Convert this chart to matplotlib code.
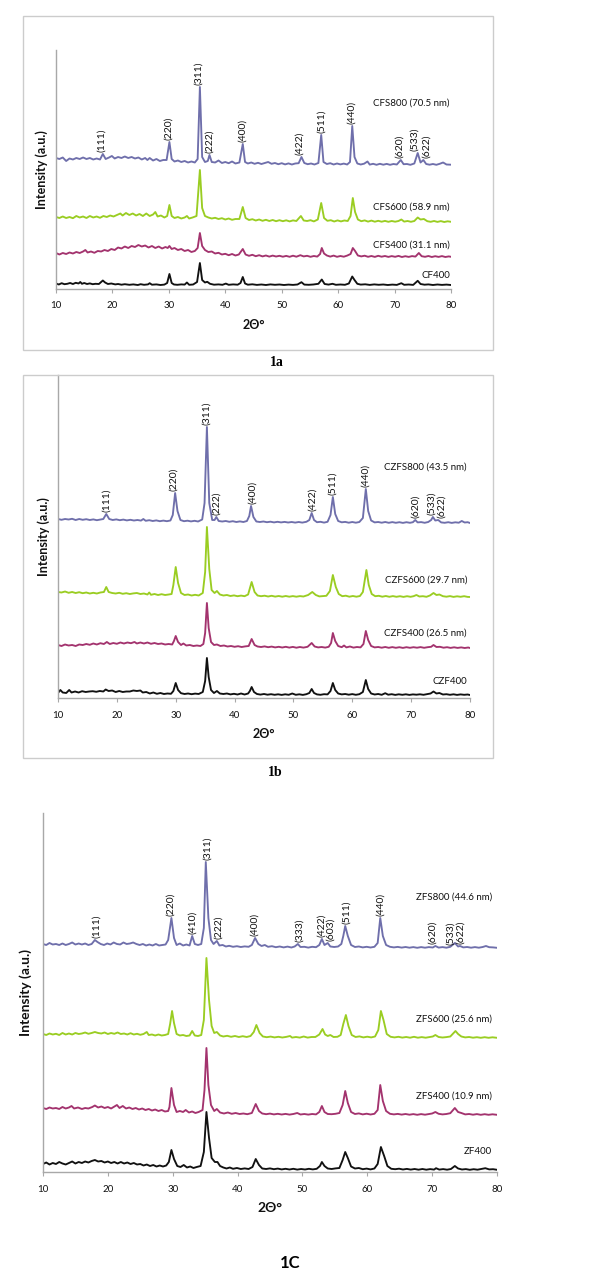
import matplotlib.pyplot as plt
import numpy as np
from matplotlib.patches import Rectangle

plt.rcParams['font.family'] = ['Lato', 'DejaVu Sans']

# ==============================
# DATA (2theta, intensity above each trace's own baseline, a.u.)
# ==============================
cf400 = np.array([
    [10, 1.5], [10.5, 0.5], [11, 1.8], [11.5, 0.8], [12, 1.2], [12.5, 2.0], [13, 1.0], [13.5, 2.2],
    [14, 1.5], [14.3, 3.0], [14.6, 1.2], [15, 2.0], [15.5, 1.0], [16, 1.6], [16.5, 0.8], [17, 1.2],
    [17.6, 1.0], [18.0, 3.0], [18.3, 4.5], [18.7, 2.5], [19.2, 1.0], [19.8, 1.5], [20.5, 0.6], [21, 1.0],
    [21.6, 0.3], [22.2, 0.8], [23, 0.2], [23.7, 0.6], [24.5, 0.0], [25, 0.8], [25.6, 0.2], [26.3, 0.6],
    [26.6, 1.8], [27, 0.3], [27.8, 0.6], [28.5, 0.0], [29.2, 0.4], [29.7, 2], [30.1, 11], [30.5, 2],
    [30.9, 0.5], [31.5, 0.2], [32.2, 0.6], [32.8, 0.4], [33.2, 2.5], [33.6, 0.2], [34.3, 0.5], [35.0, 3],
    [35.5, 22], [35.9, 5], [36.4, 2.5], [36.8, 3.2], [37.3, 1.2], [38, 0.3], [38.8, 0.6], [39.5, 0.2],
    [40.1, 1.4], [40.6, 0.2], [41.4, 0.6], [42.2, 0.3], [42.7, 2], [43.1, 8], [43.5, 1.5], [44, 0.3],
    [44.8, 0.7], [45.6, 0.1], [46.4, 0.5], [47.2, 0.0], [48, 0.6], [48.8, 0.2], [49.6, 0.5], [50.4, 0.0],
    [51.2, 0.4], [52, 0.1], [52.8, 0.5], [53.5, 2.8], [54, 0.4], [54.8, 0.2], [55.6, 0.5], [56.5, 1.2],
    [57.1, 5.5], [57.6, 1.0], [58.3, 0.4], [59, 1.2], [59.6, 0.2], [60.4, 0.5], [61.2, 0.2], [61.9, 1.5],
    [62.5, 8.5], [62.9, 5], [63.4, 1.2], [64, 0.4], [64.8, 0.7], [65.6, 0.1], [66.4, 0.6], [67.2, 0.2],
    [68, 0.5], [68.8, 0.0], [69.6, 0.4], [70.4, 0.1], [71.2, 1.8], [71.7, 0.2], [72.5, 0.5], [73.3, 0.1],
    [74.1, 4.2], [74.6, 1.0], [75.3, 0.3], [76, 0.6], [76.8, 0.0], [77.6, 0.5], [78.4, 0.1], [79.2, 0.4],
    [80, 0.0]])

cfs400 = np.array([
    [10, 4], [10.6, 2.5], [11.2, 4], [11.8, 3], [12.4, 4.5], [13, 3.5], [13.6, 5], [14.2, 4],
    [14.8, 5.5], [15.2, 7], [15.6, 4.5], [16.2, 5.5], [16.8, 4.2], [17.4, 6], [18, 5.5], [18.6, 7],
    [19.2, 6], [19.8, 8], [20.4, 7], [21, 9.5], [21.6, 8.5], [22.2, 10.5], [22.8, 9], [23.4, 11],
    [24, 10], [24.6, 12], [25.2, 10.5], [25.8, 11.5], [26.4, 9.5], [27, 11], [27.6, 9], [28.2, 10.5],
    [28.8, 8.5], [29.4, 10], [29.8, 9], [30.1, 11], [30.5, 8], [31, 9], [31.6, 7], [32.2, 8],
    [32.8, 6], [33.4, 7], [34, 5], [34.6, 6], [35.1, 9], [35.5, 24], [35.9, 11], [36.4, 7],
    [37, 5], [37.6, 5.5], [38.2, 3.5], [38.8, 4.2], [39.4, 2.5], [40, 3.2], [40.6, 1.8], [41.2, 3],
    [41.8, 1.5], [42.4, 2.5], [43.1, 8], [43.6, 2.5], [44.2, 1.2], [44.8, 2.2], [45.4, 0.8], [46, 1.8],
    [46.6, 0.6], [47.2, 1.5], [47.8, 0.4], [48.4, 1.4], [49, 0.5], [49.6, 1.2], [50.2, 0.3], [50.8, 1.1],
    [51.4, 0.2], [52, 1.3], [52.6, 0.3], [53.3, 1.8], [53.9, 0.6], [54.5, 1.2], [55.1, 0.2], [55.7, 1.0],
    [56.3, 0.4], [56.8, 3], [57.1, 9], [57.5, 3.5], [58, 1.5], [58.6, 0.4], [59.2, 1.4], [59.8, 0.2],
    [60.4, 1.0], [61, 0.3], [61.6, 1.4], [62.2, 3], [62.6, 9], [63, 6], [63.5, 1.5], [64.1, 0.6],
    [64.7, 1.3], [65.3, 0.2], [65.9, 1.0], [66.5, 0.1], [67.1, 1.2], [67.7, 0.3], [68.3, 1.0], [68.9, 0.1],
    [69.5, 0.9], [70.1, 0.2], [70.7, 1.1], [71.3, 0.0], [71.9, 0.8], [72.5, 0.1], [73.1, 0.9], [73.7, 0.4],
    [74.3, 4], [74.8, 0.8], [75.4, 0.2], [76, 1.0], [76.6, 0.0], [77.2, 0.8], [77.8, 0.1], [78.4, 0.9],
    [79, 0.0], [79.6, 0.6], [80, 0.2]])

cfs600 = np.array([
    [10, 5], [10.6, 4], [11.2, 5.5], [11.8, 4], [12.4, 5], [13, 3.8], [13.6, 6], [14.2, 4.5],
    [14.8, 5.5], [15.4, 4], [16, 6], [16.6, 4.5], [17.2, 5.5], [17.8, 4.2], [18.4, 6], [19, 5],
    [19.6, 6.5], [20.2, 5.5], [20.8, 7], [21.4, 8.5], [21.8, 6.5], [22.4, 9], [23, 7], [23.6, 8.5],
    [24.2, 6.5], [24.8, 8], [25.4, 6], [26, 8.5], [26.6, 6], [27.2, 7.5], [27.6, 10], [28, 5.5],
    [28.6, 6.5], [29.2, 4.5], [29.7, 6], [30.1, 17], [30.5, 6], [31, 4], [31.6, 5], [32.2, 3.5],
    [32.8, 4.5], [33.2, 6], [33.6, 3.5], [34.2, 4.5], [34.9, 6], [35.5, 52], [35.9, 14], [36.4, 6],
    [37, 4.5], [37.6, 3.5], [38.2, 4.2], [38.8, 3], [39.4, 3.8], [40, 2.5], [40.6, 3.5], [41.2, 2.2],
    [41.8, 3], [42.5, 3], [43.1, 15], [43.6, 4], [44.2, 2], [44.8, 2.8], [45.4, 1.5], [46, 2.5],
    [46.6, 1.2], [47.2, 2.2], [47.8, 1.0], [48.4, 2.0], [49, 0.8], [49.6, 1.8], [50.2, 0.8], [50.8, 1.7],
    [51.4, 0.6], [52, 1.6], [52.6, 1.0], [53.4, 6], [53.9, 1.5], [54.5, 1.0], [55.1, 1.8], [55.7, 0.6],
    [56.4, 2.5], [57.0, 19], [57.5, 4], [58.1, 1.2], [58.7, 1.8], [59.3, 0.5], [59.9, 1.6], [60.5, 0.6],
    [61.1, 1.5], [61.7, 1.0], [62.2, 6], [62.6, 24], [63, 10], [63.5, 2.5], [64.1, 0.8], [64.7, 1.6],
    [65.3, 0.4], [65.9, 1.4], [66.5, 0.3], [67.1, 1.2], [67.7, 0.3], [68.3, 1.1], [68.9, 0.2], [69.5, 1.0],
    [70.1, 0.3], [70.7, 1.0], [71.2, 2.5], [71.7, 0.4], [72.3, 1.0], [72.9, 0.2], [73.5, 1.0], [74.1, 4.5],
    [74.6, 2.5], [75.2, 3], [75.8, 0.8], [76.4, 0.2], [77, 1.0], [77.6, 0.1], [78.2, 0.9], [78.8, 0.0],
    [79.4, 0.7], [80, 0.2]])

cfs800 = np.array([
    [10, 7], [10.6, 6], [11.2, 7.5], [11.8, 4], [12.4, 6.5], [13, 5.5], [13.6, 7], [14.2, 6],
    [14.8, 7.5], [15.4, 6], [16, 7], [16.6, 5.5], [17.2, 6.5], [17.8, 5.5], [18.3, 11], [18.8, 6],
    [19.4, 7.5], [19.9, 9], [20.4, 6.5], [21, 8], [21.6, 7], [22.2, 8.5], [22.8, 7], [23.4, 8],
    [24, 6.5], [24.6, 7.5], [25.2, 5.5], [25.8, 7], [26.2, 5], [26.6, 7], [27.2, 4.5], [27.8, 6],
    [28.4, 4], [29, 5], [29.6, 5], [30.1, 23], [30.5, 6], [31, 3.5], [31.6, 4.5], [32.2, 3],
    [32.8, 4], [33.4, 2.5], [34, 3.5], [34.6, 2.5], [35.1, 6], [35.5, 78], [35.9, 8], [36.4, 3],
    [36.9, 4], [37.2, 10], [37.6, 3], [38.2, 2.5], [38.8, 4.5], [39.4, 2], [40, 3], [40.6, 1.8],
    [41.2, 3.5], [41.8, 1.5], [42.5, 2.5], [43.1, 21], [43.5, 3], [44, 1.5], [44.6, 2.5], [45.2, 1.2],
    [45.8, 2.2], [46.4, 1.0], [47, 2.0], [47.6, 3], [48.2, 1.2], [48.8, 2.0], [49.4, 0.8], [50, 1.8],
    [50.6, 0.6], [51.2, 1.6], [51.8, 0.5], [52.4, 1.5], [53, 1.8], [53.5, 8], [54, 2], [54.6, 0.8],
    [55.2, 1.5], [55.8, 0.5], [56.5, 2], [57.0, 30], [57.4, 3], [58, 1], [58.6, 1.8], [59.2, 0.5],
    [59.8, 1.5], [60.4, 0.6], [61, 1.4], [61.6, 0.5], [62.1, 3], [62.5, 39], [62.9, 8], [63.4, 1.5],
    [64, 0.5], [64.6, 1.3], [65.2, 3.5], [65.6, 0.4], [66.2, 1.2], [66.8, 0.2], [67.4, 1.2], [68, 0.3],
    [68.6, 1.1], [69.2, 0.2], [69.8, 1.0], [70.4, 0.5], [71.1, 5], [71.6, 0.8], [72.2, 1.0], [72.8, 0.2],
    [73.5, 1.5], [74.1, 12], [74.6, 2.5], [75.1, 5], [75.6, 1], [76.2, 0.3], [76.8, 1.0], [77.4, 0.2],
    [78, 1.2], [78.6, 2.5], [79.2, 0.5], [80, 0.3]])

czf400 = np.array([
    [10, 2], [10.4, 5], [10.8, 2.5], [11.4, 2], [11.9, 5], [12.3, 2.5], [12.9, 3.5], [13.5, 2.5],
    [14.1, 3.8], [14.7, 3], [15.3, 3.5], [15.9, 3.8], [16.5, 3.2], [17.1, 4], [17.7, 3.5], [18.1, 5.5],
    [18.6, 4], [19.2, 4.5], [19.8, 3], [20.4, 4], [21, 3], [21.6, 3.5], [22.2, 3.5], [22.8, 4.5],
    [23.4, 4], [24, 4.5], [24.4, 2.5], [25, 3], [25.6, 1.5], [26.2, 2.5], [26.8, 1.2], [27.4, 2],
    [28, 1], [28.6, 1.5], [29.2, 1.2], [29.6, 4], [30.0, 12], [30.4, 5], [30.9, 1.8], [31.5, 1.0],
    [32.1, 1.5], [32.7, 0.8], [33.3, 1.4], [33.9, 1.0], [34.6, 3], [35.0, 14], [35.3, 37], [35.6, 18],
    [36.0, 5], [36.5, 2], [37.0, 4], [37.5, 1.5], [38.1, 1.0], [38.7, 1.5], [39.3, 0.6], [39.9, 1.2],
    [40.5, 0.5], [41.1, 1.5], [41.7, 0.5], [42.3, 1.5], [42.6, 4], [42.9, 8], [43.3, 3], [43.8, 1.0],
    [44.4, 0.4], [45, 1.0], [45.6, 0.3], [46.2, 0.8], [46.8, 0.2], [47.4, 0.7], [48, 0.1], [48.6, 0.7],
    [49.2, 0.2], [49.8, 1.5], [50.4, 0.2], [51, 0.7], [51.6, 0.1], [52.2, 0.8], [52.7, 2], [53.1, 6],
    [53.5, 2], [54, 0.6], [54.6, 0.2], [55.2, 0.8], [55.8, 0.6], [56.3, 4], [56.7, 12], [57.1, 5],
    [57.6, 1.5], [58.2, 0.6], [58.8, 1.0], [59.4, 0.3], [60, 0.9], [60.6, 0.2], [61.2, 0.8], [61.8, 3],
    [62.3, 15], [62.7, 6], [63.2, 1.5], [63.8, 0.5], [64.4, 1.0], [65, 0.2], [65.6, 1.8], [66.1, 0.3],
    [66.7, 0.8], [67.3, 0.1], [67.9, 0.7], [68.5, 0.2], [69.1, 0.7], [69.7, 0.1], [70.3, 0.6], [70.9, 0.3],
    [71.5, 0.7], [72.1, 0.2], [72.7, 0.8], [73.3, 1.5], [73.8, 3.5], [74.3, 1.5], [74.8, 2], [75.4, 0.5],
    [76, 0.8], [76.6, 0.2], [77.2, 0.7], [77.8, 0.1], [78.4, 0.6], [79, 0.2], [79.6, 0.5], [80, 0]])

czfs400 = np.array([
    [10, 3], [10.6, 2], [11.2, 3.5], [11.8, 2.5], [12.4, 3], [13, 2], [13.6, 3.5], [14.2, 3],
    [14.8, 4], [15.4, 3.2], [16, 4.5], [16.6, 3.5], [17.2, 4.8], [17.8, 4], [18.3, 6], [18.8, 4],
    [19.4, 5], [20, 4.2], [20.6, 5.5], [21.2, 4.5], [21.8, 5.5], [22.4, 4.8], [23, 6], [23.4, 4.5],
    [24, 5.5], [24.6, 4.5], [25.2, 5.5], [25.8, 4.2], [26.4, 5], [27, 4], [27.6, 4.5], [28.2, 3.5],
    [28.8, 4], [29.4, 3.5], [29.7, 7], [30.0, 12], [30.4, 6], [30.9, 3], [31.3, 4.5], [31.8, 2.5],
    [32.4, 3], [33, 2], [33.6, 2.5], [34.2, 2], [34.7, 4], [35.0, 15], [35.3, 45], [35.6, 20],
    [36.0, 6], [36.5, 3], [37, 3.5], [37.6, 2], [38.2, 2.5], [38.8, 1.5], [39.4, 2.0], [40, 1.2],
    [40.6, 1.8], [41.2, 1.0], [41.8, 1.6], [42.4, 2], [42.9, 9], [43.4, 3], [43.9, 1.5], [44.5, 1.0],
    [45.1, 1.6], [45.7, 0.8], [46.3, 1.4], [46.9, 0.6], [47.5, 1.2], [48.1, 0.5], [48.7, 1.2], [49.3, 0.4],
    [49.9, 1.1], [50.5, 0.3], [51.1, 1.0], [51.7, 0.4], [52.4, 1.2], [53.1, 5], [53.6, 1.5], [54.2, 0.6],
    [54.8, 1.0], [55.4, 0.4], [56.0, 1.2], [56.4, 5], [56.7, 15], [57.1, 7], [57.6, 2], [58.2, 0.8],
    [58.6, 2.5], [59, 0.6], [59.6, 1.5], [60.2, 0.4], [60.8, 1.0], [61.4, 0.6], [61.9, 4], [62.3, 17],
    [62.7, 8], [63.2, 2], [63.8, 0.6], [64.4, 1.0], [65, 0.3], [65.6, 1.0], [66.2, 0.2], [66.8, 0.9],
    [67.4, 0.2], [68, 0.8], [68.6, 0.1], [69.2, 0.8], [69.8, 0.2], [70.4, 0.8], [71, 0.3], [71.6, 0.9],
    [72.2, 0.2], [72.8, 0.8], [73.4, 1.2], [73.8, 3], [74.3, 1.0], [74.9, 1.2], [75.5, 0.3], [76.1, 0.8],
    [76.7, 0.1], [77.3, 0.7], [77.9, 0.1], [78.5, 0.6], [79.1, 0.0], [79.7, 0.5], [80, 0]])

czfs600 = np.array([
    [10, 5], [10.6, 4.5], [11.2, 5.5], [11.8, 4.2], [12.4, 5], [13, 4], [13.6, 4.8], [14.2, 3.8],
    [14.8, 4.5], [15.4, 3.5], [16, 4.2], [16.6, 3.5], [17.2, 4.5], [17.8, 5], [18.2, 10], [18.6, 5],
    [19.2, 4], [19.8, 3.5], [20.4, 4.2], [21, 3.2], [21.6, 3.8], [22.2, 3], [22.8, 3.6], [23.4, 4],
    [24, 3], [24.6, 3.5], [25.2, 2.5], [25.5, 4.5], [25.8, 2.2], [26.4, 3], [27, 2], [27.6, 2.8],
    [28.2, 2], [28.8, 2.5], [29.3, 3], [29.6, 12], [30.0, 30], [30.4, 14], [30.9, 4], [31.5, 2],
    [32.1, 2.5], [32.7, 1.5], [33.3, 2.2], [33.9, 1.5], [34.6, 4], [35.0, 25], [35.3, 70], [35.7, 28],
    [36.1, 7], [36.6, 4], [37.0, 6], [37.5, 2.5], [38.1, 1.5], [38.7, 2], [39.3, 1.0], [39.9, 1.6],
    [40.5, 0.8], [41.1, 1.4], [41.7, 0.8], [42.3, 2.5], [42.9, 15], [43.4, 5], [43.9, 1.5], [44.5, 0.8],
    [45.1, 1.3], [45.7, 0.5], [46.3, 1.2], [46.9, 0.4], [47.5, 1.0], [48.1, 0.3], [48.7, 1.0], [49.3, 0.3],
    [49.9, 0.9], [50.5, 0.3], [51.1, 0.9], [51.7, 0.5], [52.5, 2], [53.2, 5], [53.8, 2], [54.4, 0.6],
    [55, 0.9], [55.6, 1.2], [56.2, 6], [56.7, 22], [57.2, 10], [57.7, 3], [58.3, 0.8], [58.9, 1.3],
    [59.5, 0.3], [60.1, 1.0], [60.7, 0.3], [61.3, 1.0], [61.8, 5], [62.4, 27], [62.8, 12], [63.3, 3],
    [63.9, 0.8], [64.5, 1.2], [65.1, 0.3], [65.7, 1.0], [66.3, 0.2], [66.9, 0.9], [67.5, 0.2], [68.1, 0.8],
    [68.7, 0.1], [69.3, 0.8], [69.9, 0.2], [70.4, 0.8], [70.9, 2], [71.4, 0.5], [72, 0.8], [72.6, 0.2],
    [73.2, 1.5], [73.8, 4], [74.3, 2], [74.8, 2.5], [75.4, 0.8], [76, 0.3], [76.6, 0.9], [77.2, 0.1],
    [77.8, 0.7], [78.4, 0.2], [79, 0.8], [79.6, 0.1], [80, 0]])

czfs800 = np.array([
    [10, 4], [10.6, 3.2], [11.2, 4], [11.8, 3.5], [12.4, 4.2], [13, 3], [13.6, 4], [14.2, 3.2],
    [14.8, 3.8], [15.4, 3], [16, 3.6], [16.6, 2.8], [17.2, 3.4], [17.7, 4], [18.2, 9], [18.7, 4],
    [19.3, 3], [19.9, 3.6], [20.5, 2.8], [21.1, 3.4], [21.7, 2.6], [22.3, 3.2], [22.9, 2.5], [23.5, 3.0],
    [24.1, 2.4], [24.5, 4], [24.9, 2.2], [25.5, 2.8], [26.1, 2.0], [26.7, 2.6], [27.3, 1.8], [27.9, 2.4],
    [28.5, 1.8], [29.1, 2.5], [29.5, 8], [29.9, 30], [30.3, 12], [30.8, 3], [31.4, 1.8], [32, 2.3],
    [32.6, 1.6], [33.2, 2.2], [33.8, 1.5], [34.5, 3.5], [34.9, 20], [35.3, 96], [35.7, 20], [36.2, 3],
    [36.6, 3], [36.9, 6], [37.3, 2], [37.9, 1.5], [38.5, 2], [39.1, 1.2], [39.7, 1.8], [40.3, 1.0],
    [40.9, 1.6], [41.5, 1.0], [42.1, 2], [42.5, 7], [42.8, 17], [43.2, 6], [43.7, 1.5], [44.3, 1.0],
    [44.9, 1.5], [45.5, 0.8], [46.1, 1.3], [46.7, 0.6], [47.3, 1.2], [47.9, 0.6], [48.5, 1.1], [49.1, 0.5],
    [49.7, 1.0], [50.3, 0.4], [50.9, 1.0], [51.5, 0.4], [52.2, 1.2], [52.7, 3], [53.1, 10], [53.5, 3],
    [54, 0.8], [54.6, 1.2], [55.2, 0.4], [55.8, 1.2], [56.3, 8], [56.7, 26], [57.1, 9], [57.6, 2],
    [58.2, 0.7], [58.8, 1.1], [59.4, 0.3], [60, 1.0], [60.6, 0.3], [61.2, 1.0], [61.8, 5], [62.3, 34],
    [62.7, 12], [63.2, 2.5], [63.8, 0.6], [64.4, 1.0], [65, 0.3], [65.6, 1.0], [66.2, 0.2], [66.8, 0.9],
    [67.4, 0.2], [68, 0.8], [68.6, 0.1], [69.2, 0.8], [69.8, 0.2], [70.3, 0.8], [70.7, 3], [71.1, 0.6],
    [71.7, 0.9], [72.3, 0.2], [72.9, 1.0], [73.4, 3], [73.7, 6], [74.1, 2.5], [74.6, 3], [75.1, 0.6],
    [75.7, 0.2], [76.3, 0.8], [76.9, 0.1], [77.5, 0.7], [78.1, 0.3], [78.6, 2], [79.1, 0.5], [79.6, 0.8],
    [80, 0]])

zf400 = np.array([
    [10, 6], [10.5, 7.5], [11, 5.5], [11.5, 7], [12, 6], [12.5, 8], [13, 6.5], [13.5, 5.5],
    [14, 7], [14.5, 8.5], [15, 6.5], [15.5, 8], [16, 7], [16.5, 8.5], [17, 7.5], [17.5, 9],
    [18, 10], [18.5, 8.5], [19, 9], [19.5, 7.5], [20, 8.5], [20.5, 7], [21, 8], [21.5, 6.5],
    [22, 8], [22.5, 6.5], [23, 7.5], [23.5, 6], [24, 7], [24.5, 5.5], [25, 6], [25.5, 4.5],
    [26, 5.5], [26.5, 4], [27, 5], [27.5, 3.5], [28, 4.5], [28.5, 3.5], [29, 4.5], [29.4, 8],
    [29.8, 20], [30.2, 11], [30.7, 4], [31.2, 3], [31.7, 5], [32.2, 2.5], [32.7, 3.5], [33.2, 2],
    [33.7, 3], [34.3, 4], [34.8, 18], [35.2, 58], [35.6, 32], [36.0, 12], [36.5, 8], [36.9, 8],
    [37.3, 4], [37.8, 2.5], [38.3, 1.5], [38.8, 2.5], [39.3, 1.2], [39.9, 2], [40.5, 1], [41.1, 1.6],
    [41.7, 1], [42.3, 3], [42.8, 11], [43.3, 5], [43.8, 1.5], [44.4, 1], [45, 1.6], [45.6, 0.8],
    [46.2, 1.4], [46.8, 0.6], [47.4, 1.2], [48, 0.5], [48.6, 1.2], [49.2, 0.4], [49.8, 1.0], [50.4, 0.5],
    [51, 1.2], [51.6, 0.6], [52.2, 1.2], [52.7, 4], [53.0, 8], [53.4, 4], [53.9, 1.5], [54.5, 1.0],
    [55.1, 1.6], [55.7, 2], [56.2, 10], [56.6, 18], [57.0, 12], [57.5, 3.5], [58.1, 1.5], [58.7, 2],
    [59.3, 0.8], [59.9, 1.4], [60.5, 0.6], [61.1, 1.5], [61.6, 6], [62.1, 23], [62.6, 14], [63.1, 4],
    [63.7, 1.2], [64.3, 0.8], [64.9, 1.3], [65.5, 0.5], [66.1, 1.1], [66.7, 0.4], [67.3, 1.0], [67.9, 0.3],
    [68.5, 1.0], [69.1, 0.3], [69.7, 0.9], [70.3, 0.4], [70.6, 1.8], [71.1, 0.4], [71.7, 0.9], [72.3, 0.3],
    [72.9, 1.0], [73.5, 4], [74, 1.5], [74.6, 0.5], [75.2, 0.9], [75.8, 0.2], [76.4, 0.8], [77, 0.3],
    [77.6, 1.0], [78.2, 1.8], [78.8, 0.6], [79.4, 0.8], [80, 0.2]])

zfs400 = np.array([
    [10, 7], [10.5, 6], [11, 7.5], [11.5, 6.5], [12, 7], [12.5, 6], [13, 8], [13.5, 6.5],
    [14, 7.5], [14.4, 9], [14.8, 6.5], [15.4, 7.5], [16, 6], [16.5, 7], [17, 6.5], [17.6, 8],
    [18, 9.5], [18.5, 7.5], [19, 8.5], [19.5, 7], [20, 8], [20.5, 6.5], [21, 8.5], [21.4, 10],
    [21.8, 7], [22.3, 9], [22.8, 6.5], [23.3, 7.5], [23.8, 6], [24.3, 7], [24.8, 5.5], [25.3, 6.5],
    [25.8, 5], [26.3, 6], [26.8, 4.5], [27.3, 5.5], [27.8, 4], [28.3, 5], [28.8, 3.5], [29.3, 4],
    [29.5, 8], [29.8, 27], [30.2, 10], [30.6, 3], [31.1, 4], [31.6, 3], [32, 5], [32.5, 2.5],
    [33, 3.5], [33.5, 2], [34, 3], [34.6, 5], [34.9, 25], [35.2, 67], [35.5, 30], [35.9, 10],
    [36.4, 4], [36.8, 6], [37.3, 2.5], [37.9, 1.5], [38.5, 2.5], [39.1, 1.2], [39.7, 2], [40.3, 1],
    [40.9, 1.5], [41.5, 0.8], [42.2, 2], [42.8, 11], [43.3, 4], [43.8, 1.5], [44.4, 0.8], [45, 1.4],
    [45.6, 0.6], [46.2, 1.2], [46.8, 0.5], [47.4, 1.1], [48, 0.4], [48.6, 1.0], [49.2, 2], [49.7, 0.5],
    [50.3, 1.0], [50.9, 0.4], [51.5, 1.0], [52.1, 0.6], [52.6, 3], [53.0, 9], [53.4, 3], [53.9, 1],
    [54.5, 0.8], [55.1, 1.2], [55.7, 2], [56.2, 10], [56.6, 24], [57.0, 12], [57.5, 3], [58.1, 1.0],
    [58.7, 1.6], [59.3, 0.6], [59.9, 1.3], [60.5, 0.5], [61.1, 1.2], [61.6, 5], [62.0, 30], [62.4, 14],
    [62.9, 4], [63.5, 1.2], [64.1, 0.6], [64.7, 1.1], [65.3, 0.4], [65.9, 1.0], [66.5, 0.3], [67.1, 0.9],
    [67.7, 0.2], [68.3, 0.9], [68.9, 0.3], [69.5, 1.0], [70, 1.5], [70.5, 3], [71, 1.2], [71.6, 0.6],
    [72.2, 1.0], [72.8, 1.8], [73.5, 7], [74, 3], [74.5, 2], [75.1, 0.6], [75.7, 1.0], [76.3, 0.3],
    [76.9, 0.9], [77.5, 0.2], [78.1, 0.8], [78.7, 0.2], [79.3, 0.7], [80, 0.2]])

zfs600 = np.array([
    [10, 4], [10.5, 3], [11, 4.5], [11.5, 3.5], [12, 4.2], [12.5, 3], [13, 5], [13.5, 3.5],
    [14, 4.5], [14.5, 3.5], [15, 5], [15.5, 4], [16, 4.5], [16.5, 5.5], [17, 4.2], [17.5, 5],
    [18, 6], [18.5, 5], [19, 4.5], [19.5, 5.5], [20, 4], [20.5, 5], [21, 4.2], [21.5, 5.5],
    [22, 4], [22.5, 4.5], [23, 3.5], [23.5, 4.8], [24, 3.5], [24.5, 4.2], [25, 3.2], [25.5, 4],
    [26, 6], [26.3, 3], [26.8, 3.5], [27.3, 2.5], [27.8, 3.5], [28.3, 2.5], [28.8, 3], [29.3, 4],
    [29.6, 14], [29.9, 27], [30.2, 15], [30.6, 4], [31.1, 2.5], [31.6, 3], [32.1, 2], [32.6, 2.5],
    [33.0, 7], [33.4, 2.5], [33.9, 2], [34.4, 3], [34.8, 18], [35.2, 80], [35.6, 38], [36.0, 12],
    [36.4, 5], [36.8, 6], [37.3, 2.5], [37.8, 1.5], [38.4, 2.2], [39, 1.2], [39.6, 2], [40.2, 1],
    [40.8, 1.8], [41.4, 1], [42, 2], [42.5, 6], [42.9, 13], [43.4, 5], [43.9, 1.5], [44.5, 0.8],
    [45.1, 1.4], [45.7, 0.6], [46.3, 1.2], [46.9, 0.5], [47.5, 1.1], [48.1, 2], [48.4, 0.4], [49, 1.0],
    [49.6, 0.4], [50.2, 1.5], [50.8, 0.4], [51.4, 1.0], [52, 1.0], [52.6, 3.5], [53.1, 9], [53.5, 3.5],
    [53.9, 2], [54.3, 3], [54.8, 1], [55.4, 1.2], [55.9, 3], [56.3, 14], [56.7, 23], [57.1, 12],
    [57.6, 3], [58.2, 1.0], [58.8, 1.6], [59.4, 0.6], [60, 1.3], [60.6, 0.6], [61.2, 1.5], [61.7, 8],
    [62.1, 27], [62.5, 18], [63.0, 4], [63.6, 1.2], [64.2, 0.6], [64.8, 1.2], [65.4, 0.4], [66, 1.0],
    [66.6, 0.3], [67.2, 1.2], [67.8, 0.3], [68.4, 0.9], [69, 0.3], [69.6, 1.0], [70.1, 1.5], [70.5, 3],
    [71, 1.0], [71.6, 0.5], [72.2, 0.9], [72.8, 1.5], [73.3, 5], [73.6, 7], [74, 4], [74.5, 1.5],
    [75.1, 0.6], [75.7, 1.0], [76.3, 0.3], [76.9, 0.8], [77.5, 0.2], [78.1, 0.8], [78.7, 0.2], [79.3, 0.7],
    [80, 0.2]])

zfs800 = np.array([
    [10, 4], [10.5, 3], [11, 5], [11.5, 3.5], [12, 4], [12.5, 3], [13, 4.5], [13.5, 3],
    [14, 4], [14.5, 5.5], [15, 3.5], [15.5, 4.5], [16, 3.5], [16.5, 4.5], [17, 3], [17.5, 4],
    [18, 8], [18.4, 6], [18.9, 4], [19.4, 3], [19.9, 4.5], [20.4, 3.5], [20.9, 5.5], [21.4, 4],
    [21.9, 3.5], [22.4, 5.5], [22.9, 4], [23.4, 4.5], [23.9, 5.5], [24.4, 4], [24.9, 3], [25.4, 4],
    [25.9, 2.5], [26.4, 3.5], [26.9, 2.5], [27.4, 4], [27.9, 2.5], [28.4, 3], [28.9, 3.5], [29.3, 8],
    [29.8, 30], [30.2, 10], [30.6, 3], [31.1, 4.5], [31.6, 2.5], [32.1, 3.5], [32.6, 2.5], [33.0, 12],
    [33.4, 4], [33.9, 3], [34.4, 4], [34.8, 20], [35.1, 86], [35.5, 30], [35.9, 8], [36.3, 4],
    [36.8, 7], [37.2, 2.5], [37.7, 3], [38.2, 1.5], [38.7, 2.2], [39.3, 1.2], [39.9, 1.8], [40.5, 1],
    [41.1, 1.6], [41.7, 1.2], [42.2, 3], [42.7, 10], [43.2, 4], [43.7, 2], [44.2, 3], [44.7, 1.2],
    [45.3, 1.8], [45.9, 0.8], [46.5, 1.5], [47.1, 0.6], [47.7, 1.4], [48.3, 0.5], [48.8, 1.5], [49.3, 4],
    [49.7, 1.0], [50.3, 1.2], [50.9, 0.4], [51.5, 1.2], [52.1, 0.8], [52.6, 3], [53.0, 9], [53.4, 3],
    [53.9, 5], [54.3, 1.5], [54.9, 1.0], [55.5, 1.5], [56, 4], [56.3, 12], [56.6, 22], [57.0, 12],
    [57.5, 3], [58.1, 1.0], [58.7, 1.5], [59.3, 0.6], [59.9, 1.2], [60.5, 0.5], [61.1, 1.2], [61.6, 5],
    [62.0, 30], [62.4, 12], [62.9, 3], [63.5, 1.2], [64.1, 0.6], [64.7, 1.1], [65.3, 0.4], [65.9, 1.0],
    [66.5, 0.3], [67.1, 0.9], [67.7, 0.2], [68.3, 0.9], [68.9, 0.3], [69.5, 0.9], [70.1, 0.5], [70.5, 2],
    [71, 0.4], [71.6, 0.9], [72.2, 0.3], [72.8, 1.2], [73.5, 5], [74, 1.5], [74.3, 2], [74.8, 0.6],
    [75.4, 1.0], [76, 0.3], [76.6, 0.9], [77.2, 0.3], [77.8, 1.0], [78.3, 2], [78.8, 0.8], [79.4, 0.6],
    [80, 0.2]])

# series names (bottom to top)
names_a = ["CF400", "CFS400 (31.1 nm)", "CFS600 (58.9 nm)", "CFS800 (70.5 nm)"]
names_b = ["CZF400", "CZFS400 (26.5 nm)", "CZFS600 (29.7 nm)", "CZFS800 (43.5 nm)"]
names_c = ["ZF400", "ZFS400 (10.9 nm)", "ZFS600 (25.6 nm)", "ZFS800 (44.6 nm)"]

# Miller indices marked on the top pattern and their 2theta
hkl_a = ["(111)", "(220)", "(311)", "(222)", "(400)", "(422)", "(511)", "(440)", "(620)", "(533)", "(622)"]
hkl_a_pos = [18.1, 30.0, 35.3, 37.2, 43.0, 53.2, 57.0, 62.4, 70.8, 73.6, 75.6]
hkl_b = ["(111)", "(220)", "(311)", "(222)", "(400)", "(422)", "(511)", "(440)", "(620)", "(533)", "(622)"]
hkl_b_pos = [18.2, 29.7, 35.3, 37.0, 43.0, 53.2, 56.7, 62.3, 70.7, 73.4, 75.1]
hkl_c = ["(111)", "(220)", "(410)", "(311)", "(222)", "(400)", "(333)", "(422)", "(603)", "(511)",
         "(440)", "(620)", "(533)", "(622)"]
hkl_c_pos = [18.3, 29.7, 33.1, 35.3, 37.0, 42.6, 49.5, 52.9, 54.4, 56.8, 62.0, 70.1, 72.8, 74.4]

xticks = [10, 20, 30, 40, 50, 60, 70, 80]

# ==============================
# LAYOUT / STYLE
# ==============================
colors = ["#111111", "#a3336e", "#9acd22", "#6f6fab"]
W, H = 600, 1280

fig = plt.figure(figsize=(6, 12.8), dpi=100)


def fig_rect(x0, y0, x1, y1):
    # pixel box (top-left origin) -> figure fraction
    return [x0 / W, 1 - y1 / H, (x1 - x0) / W, (y1 - y0) / H]


def panel(box, traces, offsets, names, name_y, name_x, hkl, hkl_pos, xlab_size, ylab_size, ylab_pad):
    ax = fig.add_axes(fig_rect(*box))
    height = box[3] - box[1]
    for tr, off, col in zip(traces, offsets, colors):
        ax.plot(tr[:, 0], tr[:, 1] + off, color=col, lw=1.35)
    for nm, ny in zip(names, name_y):
        ax.text(name_x, ny, nm, ha="right", va="center", fontsize=7, color="#111111")
    top = traces[-1]
    for lab, pos in zip(hkl, hkl_pos):
        near = top[np.abs(top[:, 0] - pos) <= 0.6, 1]
        ytop = near.max() + offsets[-1] + 2
        ax.text(pos, ytop, lab, rotation=90, ha="center", va="bottom", fontsize=7.5, color="#111111")
    ax.set_xlim(10, 80)
    ax.set_ylim(0, height)
    ax.set_xticks(xticks)
    ax.set_yticks([])
    for s in ["top", "right"]:
        ax.spines[s].set_visible(False)
    for s in ["left", "bottom"]:
        ax.spines[s].set_color("#a8a8a8")
        ax.spines[s].set_linewidth(1.0)
    ax.tick_params(axis="x", colors="#a8a8a8", labelcolor="#111111", labelsize=7, length=3, pad=6)
    ax.set_xlabel("2Θ°", fontsize=xlab_size, fontweight="bold", labelpad=6, color="#111111")
    ax.set_ylabel("Intensity (a.u.)", fontsize=ylab_size, fontweight="bold", labelpad=ylab_pad, color="#111111")
    return ax


# ==============================
# PANEL 1a
# ==============================
panel((56, 50, 451, 289), [cf400, cfs400, cfs600, cfs800], [4, 32, 67, 124],
      names_a, [13, 44, 82, 186], 79.8, hkl_a, hkl_a_pos, 9, 9, 6)
fig.patches.append(Rectangle((23 / W, 1 - 350 / H), 470 / W, 334 / H, transform=fig.transFigure,
                             fill=False, edgecolor="#cccccc", lw=1.0))
fig.text(277 / W, 1 - 363 / H, "1a", ha="center", va="center", fontsize=10,
         fontweight="bold", family="Liberation Serif")

# ==============================
# PANEL 1b
# ==============================
panel((58, 375, 470, 698), [czf400, czfs400, czfs600, czfs800], [3, 50, 101, 175],
      names_b, [16, 65, 118, 231], 79.5, hkl_b, hkl_b_pos, 9, 9, 6)
fig.patches.append(Rectangle((23 / W, 1 - 758 / H), 470 / W, 383 / H, transform=fig.transFigure,
                             fill=False, edgecolor="#cccccc", lw=1.0))
fig.text(275 / W, 1 - 773 / H, "1b", ha="center", va="center", fontsize=10,
         fontweight="bold", family="Liberation Serif")

# ==============================
# PANEL 1C
# ==============================
panel((43, 813, 497, 1172), [zf400, zfs400, zfs600, zfs800], [2, 57, 134, 224],
      names_c, [21, 76, 153, 275], 79.2, hkl_c, hkl_c_pos, 10, 10, 8)
fig.text(290 / W, 1 - 1263 / H, "1C", ha="center", va="center", fontsize=12, fontweight="bold")

fig.savefig("out.png", dpi=100)
plt.close()
